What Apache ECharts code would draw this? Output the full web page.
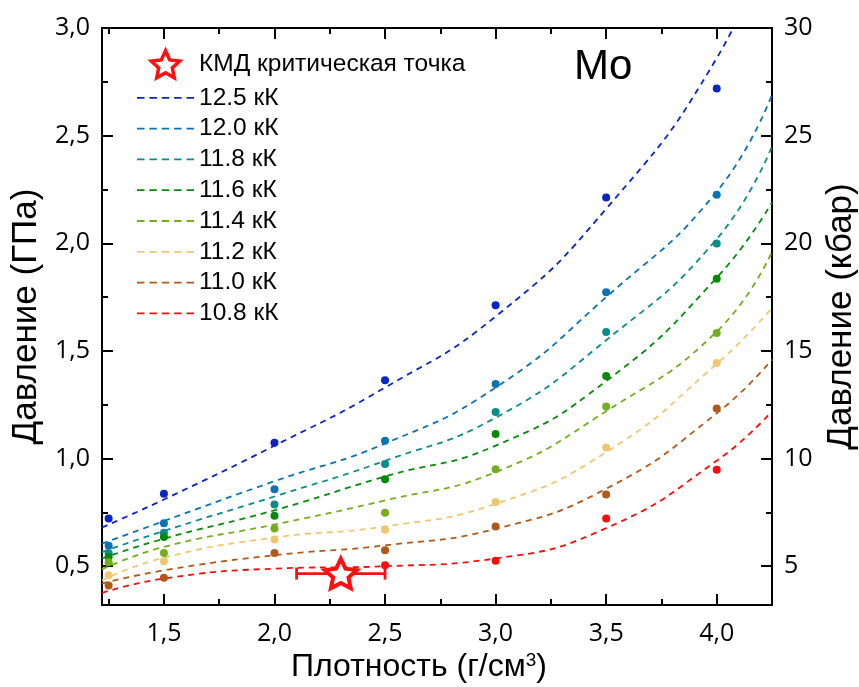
<!DOCTYPE html>
<html>
<head>
<meta charset="utf-8">
<script src="https://cdn.jsdelivr.net/npm/echarts@6/dist/echarts.min.js"></script>
<style>
html,body{margin:0;padding:0;background:#fff;}
#chart{width:859px;height:687px;}
</style>
</head>
<body>
<div id="chart"></div>
<script>
// ---------- DATA ----------
const temps = ['12.5 кК', '12.0 кК', '11.8 кК', '11.6 кК', '11.4 кК', '11.2 кК', '11.0 кК', '10.8 кК'];
const colors = ['#0b24c4', '#0c72b4', '#0b8c8c', '#078a0a', '#74ae1e', '#f0c673', '#b0591a', '#ff0b0b'];

// simulated points (density g/cm3 -> pressure GPa)
const densityX = [1.25, 1.5, 2.0, 2.5, 3.0, 3.5, 4.0];
const p125 = [0.722, 0.837, 1.074, 1.364, 1.712, 2.213, 2.719];
const p120 = [0.595, 0.700, 0.858, 1.083, 1.346, 1.773, 2.225];
const p118 = [0.560, 0.656, 0.787, 0.975, 1.216, 1.588, 1.999];
const p116 = [0.543, 0.636, 0.735, 0.904, 1.114, 1.384, 1.835];
const p114 = [0.519, 0.562, 0.675, 0.749, 0.950, 1.242, 1.583];
const p112 = [0.458, 0.523, 0.624, 0.670, 0.798, 1.051, 1.444];
const p110 = [0.410, 0.447, 0.562, 0.574, 0.685, 0.833, 1.233];
const p108 = [null, null, null, 0.505, 0.525, 0.722, 0.948];

// fitted dashed curves
const curveX = [1.22, 1.5, 2.0, 2.5, 3.0, 3.5, 4.0, 4.25];
const f125 = [0.680, 0.810, 1.060, 1.330, 1.660, 2.160, 2.860, 3.450];
const f120 = [0.605, 0.710, 0.895, 1.070, 1.330, 1.750, 2.240, 2.690];
const f118 = [0.566, 0.664, 0.824, 0.990, 1.190, 1.550, 2.020, 2.450];
const f116 = [0.536, 0.628, 0.760, 0.917, 1.060, 1.360, 1.840, 2.190];
const f114 = [0.486, 0.590, 0.694, 0.806, 0.937, 1.220, 1.590, 1.960];
const f112 = [0.435, 0.540, 0.633, 0.685, 0.790, 1.030, 1.440, 1.700];
const f110 = [0.420, 0.481, 0.551, 0.597, 0.674, 0.860, 1.210, 1.460];
const f108 = [0.376, 0.443, 0.489, 0.500, 0.536, 0.677, 0.990, 1.220];

// critical point with horizontal error bar
const critName = 'КМД критическая точка';
const critX = [2.3];
const critY = [0.466];
const critXLow = [2.1];
const critXHigh = [2.5];

// axis ticks
const xMajor = [1.5, 2.0, 2.5, 3.0, 3.5, 4.0];
const xMinor = [1.25, 1.75, 2.25, 2.75, 3.25, 3.75];
const yMajor = [0.5, 1.0, 1.5, 2.0, 2.5, 3.0];
const yMinor = [0.75, 1.25, 1.75, 2.25, 2.75];
const kMajor = [5, 10, 15, 20, 25, 30];
const kMinor = [7.5, 12.5, 17.5, 22.5, 27.5];
const X_MIN = 1.22, X_MAX = 4.25, Y_MIN = 0.32, Y_MAX = 3.0;

// ---------- CHART ----------
const points = [p125, p120, p118, p116, p114, p112, p110, p108];
const fits = [f125, f120, f118, f116, f114, f112, f110, f108];

const starPath = 'path://M50,0L64.1,30.6L97.55,34.55L72.83,57.42L79.39,90.45L50,74L20.61,90.45L27.17,57.42L2.45,34.55L35.9,30.6Z';
const dashIcon = 'path://M0,0h7.5v1.8h-7.5z M12.4,0h7.5v1.8h-7.5z M24.8,0h7.5v1.8h-7.5z M37.2,0h7.5v1.8h-7.5z M49.6,0h7.5v1.8h-7.5z';

const numFont = 'Open Sans';
const txtFont = 'Liberation Sans';
const fmt = v => v.toFixed(1).replace('.', ',');

const axisLine = {show: true, lineStyle: {color: '#000', width: 2}};
function xAx(pos, major, withLabel) {
  return {
    type: 'value', min: X_MIN, max: X_MAX, position: pos,
    axisLine: major ? axisLine : {show: false},
    axisTick: {show: true, inside: true, length: major ? 11 : 6,
      lineStyle: {color: '#000', width: 2}, customValues: major ? xMajor : xMinor},
    axisLabel: withLabel ? {show: true, customValues: xMajor, formatter: fmt,
      fontSize: 25, fontFamily: numFont, color: '#000', margin: 16} : {show: false},
    splitLine: {show: false}
  };
}
function yAx(pos, major, withLabel, vals, minv, maxv, f) {
  return {
    type: 'value', min: minv, max: maxv, position: pos,
    axisLine: major ? axisLine : {show: false},
    axisTick: {show: true, inside: true, length: major ? 11 : 6,
      lineStyle: {color: '#000', width: 2}, customValues: vals},
    axisLabel: withLabel ? {show: true, customValues: vals, formatter: f,
      fontSize: 25, fontFamily: numFont, color: '#000', margin: 12} : {show: false},
    splitLine: {show: false}
  };
}

const xAxes = [xAx('bottom', true, true), xAx('bottom', false, false), xAx('top', true, false), xAx('top', false, false)];
xAxes[0].name = 'Плотность (г/см{sup|3})';
xAxes[0].nameLocation = 'middle';
xAxes[0].nameGap = 44;
xAxes[0].nameTextStyle = {fontSize: 32, fontFamily: txtFont, color: '#000', padding: [0, 36, 0, 0],
  rich: {sup: {fontSize: 19, fontFamily: txtFont, color: '#000', verticalAlign: 'top', lineHeight: 20}}};

const yAxes = [
  yAx('left', true, true, yMajor, Y_MIN, Y_MAX, fmt),
  yAx('left', false, false, yMinor, Y_MIN, Y_MAX),
  yAx('right', true, true, kMajor, Y_MIN * 10, Y_MAX * 10, v => String(v)),
  yAx('right', false, false, kMinor, Y_MIN * 10, Y_MAX * 10)
];
yAxes[0].name = 'Давление (ГПа)';
yAxes[0].nameLocation = 'middle';
yAxes[0].nameRotate = 90;
yAxes[0].nameGap = 52;
yAxes[0].nameTextStyle = {fontSize: 35, fontFamily: txtFont, color: '#000'};
yAxes[2].name = 'Давление (кбар)';
yAxes[2].nameLocation = 'middle';
yAxes[2].nameRotate = 90;
yAxes[2].nameGap = 50;
yAxes[2].nameTextStyle = {fontSize: 35, fontFamily: txtFont, color: '#000'};

const series = [];
temps.forEach((t, i) => {
  series.push({
    name: t, type: 'line', xAxisIndex: 0, yAxisIndex: 0,
    data: curveX.map((x, k) => [x, fits[i][k]]),
    smooth: 0.5, symbol: 'none', clip: true,
    lineStyle: {color: colors[i], width: 1.8, type: [6, 5]},
    itemStyle: {color: colors[i], borderWidth: 0},
    z: 2, silent: true
  });
});
temps.forEach((t, i) => {
  series.push({
    name: t + ' pts', type: 'scatter', xAxisIndex: 0, yAxisIndex: 0,
    data: densityX.map((x, k) => [x, points[i][k]]).filter(d => d[1] !== null),
    symbol: 'circle', symbolSize: 8,
    itemStyle: {color: colors[i], opacity: 1},
    z: 3, silent: true
  });
});
series.push({
  name: 'errbar', type: 'custom', xAxisIndex: 0, yAxisIndex: 0,
  data: critX.map((x, k) => [critXLow[k], critXHigh[k], critY[k]]),
  encode: {x: [0, 1], y: 2},
  renderItem: function (params, api) {
    const y = api.value(2);
    const a = api.coord([api.value(0), y]);
    const b = api.coord([api.value(1), y]);
    const cap = 6;
    const st = {stroke: '#ff1010', lineWidth: 2.8};
    return {type: 'group', children: [
      {type: 'line', shape: {x1: a[0], y1: a[1], x2: b[0], y2: b[1]}, style: st},
      {type: 'line', shape: {x1: a[0], y1: a[1] - cap, x2: a[0], y2: a[1] + cap}, style: st},
      {type: 'line', shape: {x1: b[0], y1: b[1] - cap, x2: b[0], y2: b[1] + cap}, style: st}
    ]};
  },
  z: 4, silent: true
});
series.push({
  name: critName, type: 'scatter', xAxisIndex: 0, yAxisIndex: 0,
  data: critX.map((x, k) => [x, critY[k]]),
  symbol: starPath, symbolSize: [32, 31], symbolKeepAspect: true,
  itemStyle: {color: '#ffffff', borderColor: '#ff1010', borderWidth: 4, opacity: 1},
  z: 5, silent: true
});

const option = {
  animation: false,
  backgroundColor: '#fff',
  title: {text: 'Mo', left: 569, top: 41, padding: 5,
    textStyle: {fontSize: 42, fontWeight: 'normal', fontFamily: txtFont, color: '#000'}},
  grid: {left: 102, right: 87, top: 28, bottom: 82, outerBoundsMode: 'none', containLabel: false},
  legend: {
    orient: 'vertical', left: 137, top: 49, padding: 0,
    itemWidth: 57, itemHeight: 27, itemGap: 5.8, selectedMode: false,
    textStyle: {fontSize: 24.5, fontFamily: txtFont, color: '#000'},
    data: [{name: critName, icon: starPath, itemStyle: {borderWidth: 3.5}}].concat(temps.map(t => ({name: t, icon: dashIcon})))
  },
  xAxis: xAxes,
  yAxis: yAxes,
  series: series
};

const chart = echarts.init(document.getElementById('chart'), null, {renderer: 'canvas'});
chart.setOption(option);
</script>
</body>
</html>
